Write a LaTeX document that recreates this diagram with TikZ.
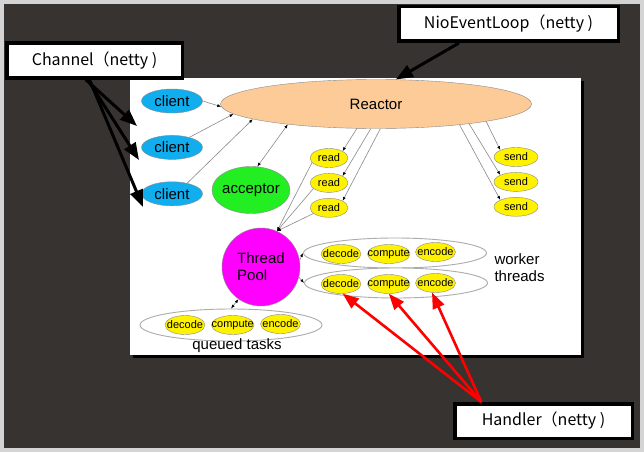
\documentclass[tikz,border=0pt]{standalone}
\usepackage{fontspec}
\setmainfont{Liberation Sans}
\newfontfamily\cjk{Noto Sans CJK SC}
\usepackage{xcolor}
\usetikzlibrary{arrows.meta,positioning,shapes.geometric}

\definecolor{frame}{HTML}{D4D4D4}
\definecolor{board}{HTML}{363330}
\definecolor{cliblue}{HTML}{10AEEF}
\definecolor{peach}{HTML}{FCCB98}
\definecolor{accgreen}{HTML}{22EE22}
\definecolor{poolpink}{HTML}{FF00FF}
\definecolor{edgegray}{HTML}{8A8A8A}

\begin{document}
\begin{tikzpicture}[x=1pt,y=-1pt,
   every node/.style={font=\fontsize{15}{17}\selectfont},
   tag/.style={draw=black,line width=3.5pt,fill=white,rectangle,inner sep=0pt,
               minimum height=34.5pt,font=\cjk\fontsize{16}{18}\selectfont},
   client/.style={draw=edgegray,fill=cliblue,ellipse,minimum width=61pt,
                  minimum height=24pt,inner sep=0pt},
   evt/.style={draw=edgegray,fill=yellow,ellipse,minimum height=19pt,
               inner xsep=-6pt,inner ysep=0pt,font=\fontsize{11}{13}\selectfont},
   grp/.style={draw=gray!65,line width=0.9pt,fill=white,ellipse,
               minimum width=183pt,minimum height=30pt},
   ln/.style={draw=edgegray,line width=0.6pt,-{Latex[length=4pt,width=3pt,black]}},
   big/.style={line width=3pt,-{Triangle[length=17pt,width=13pt]}},
   hand/.style={red,line width=2.6pt,-{Triangle[length=16pt,width=12pt]}}
]
% background and panel
\fill[frame] (0,0) rectangle (644,452);
\fill[board] (4,4) rectangle (640,448);
\fill[black] (133,81) rectangle (584,358);
\fill[white] (130,78) rectangle (581,355);

% reactor side
\node[draw=edgegray,fill=peach,ellipse,minimum width=311pt,minimum height=49pt] (reactor) at (376,104) {Reactor};
\node[client] (client1) at (172,101) {client};
\node[client,below=22pt of client1] (client2) {client};
\node[client,below=22pt of client2] (client3) {client};
\node[draw=edgegray,fill=accgreen,ellipse,minimum width=78pt,minimum height=47pt,
      inner xsep=-4pt,inner ysep=0pt] (acceptor) at (251,190) {acceptor};

\node[evt,minimum width=38pt] (read1) at (329,158) {read};
\node[evt,minimum width=38pt,below=5.5pt of read1] (read2) {read};
\node[evt,minimum width=38pt,below=5.5pt of read2] (read3) {read};
\node[evt,minimum width=44pt] (send1) at (516,157) {send};
\node[evt,minimum width=44pt,below=5.5pt of send1] (send2) {send};
\node[evt,minimum width=44pt,below=5.5pt of send2] (send3) {send};

\draw[ln] (client1.east) -- (reactor.181);
\draw[ln] (client2.30) -- (reactor.184);
\draw[ln] (client3.35) -- (reactor.187);
\draw[ln,{Latex[length=4pt,width=3pt,black]}-{Latex[length=4pt,width=3pt,black]}] (acceptor.75) -- (reactor.193);
\draw[ln] (reactor.232) -- (read1.north east);
\draw[ln] (reactor.258) -- (read2.north east);
\draw[ln] (reactor.280) -- (read3.north east);
\draw[ln] (reactor.351) -- (send1.north west);
\draw[ln] (reactor.348) -- (send2.north west);
\draw[ln] (reactor.346) -- (send3.north west);

% thread pool side
\node[draw=edgegray,fill=poolpink,circle,minimum size=78pt,inner sep=0pt,align=left] (pool) at (261,267) {Thread\\Pool};

\node[grp] (work1) at (395,253) {};
\node[grp] (work2) at (396,283) {};
\node[evt,minimum width=40pt] (dec1) at (341,254) {decode};
\node[evt,minimum width=42pt,right=6pt of dec1] (cmp1) {compute};
\node[evt,minimum width=40pt,right=5pt of cmp1,yshift=2pt] (enc1) {encode};
\node[evt,minimum width=40pt] (dec2) at (341,284) {decode};
\node[evt,minimum width=42pt,right=6pt of dec2] (cmp2) {compute};
\node[evt,minimum width=40pt,right=5pt of cmp2,yshift=1pt] (enc2) {encode};
\node[anchor=west,align=left] (wlabel) at (491,268) {worker\\threads};

\node[grp,minimum width=182pt,minimum height=32pt] (queue) at (231,325) {};
\node[evt,minimum width=40pt] (qdec) at (185,325) {decode};
\node[evt,minimum width=40pt,right=6pt of qdec] (qcmp) {compute};
\node[evt,minimum width=40pt,right=6pt of qcmp,yshift=1pt] (qenc) {encode};
\node (qlabel) at (237,346) {queued tasks};

\draw[ln] (read1.195) -- (pool.66);
\draw[ln] (read2.200) -- (pool.66);
\draw[ln] (read3.200) -- (pool.66);
\draw[ln] (pool.10) -- (work1.west);
\draw[ln] (pool.-15) -- (work2.west);
\draw[ln,{Latex[length=4pt,width=3pt,black]}-{Latex[length=4pt,width=3pt,black]}] (queue.north) -- (pool.235);

% netty callouts
\node[tag,minimum width=175.5pt] (channel) at (94.5,60.5) {Channel（netty )};
\node[tag,minimum width=219.5pt] (loop) at (508.5,24) {NioEventLoop（netty )};
\node[tag,minimum width=177.5pt] (handler) at (543.5,421) {Handler（netty )};

\coordinate (tip1) at (137,126);
\coordinate (tip2) at (139,160);
\coordinate (tip3) at (143,207);
\draw[big] (channel.245) -- (tip1);
\draw[big] (channel.250) -- (tip2);
\draw[big] (channel.255) -- (tip3);
\draw[big] (loop.201) -- (reactor.51);

\draw[hand] (handler.163) -- (dec2.280);
\draw[hand] (handler.163) -- (cmp2.south);
\draw[hand] (handler.163) -- (enc2.250);
\end{tikzpicture}
\end{document}
